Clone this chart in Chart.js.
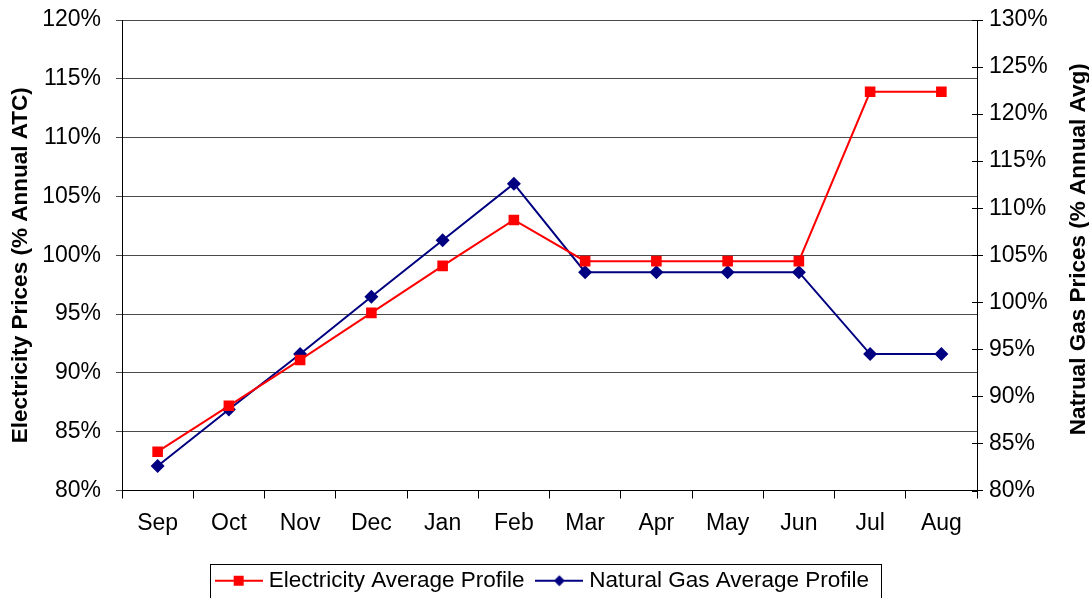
<!DOCTYPE html>
<html>
<head>
<meta charset="utf-8">
<script src="https://cdn.jsdelivr.net/npm/chart.js@4.4.1/dist/chart.umd.min.js"></script>
<style>
  html, body { margin: 0; padding: 0; background: #fff; overflow: hidden; }
  #wrap { width: 1089px; height: 602px; }
</style>
</head>
<body>
<div id="wrap"><canvas id="chart" width="1089" height="602"></canvas></div>
<script>
const months = ['Sep', 'Oct', 'Nov', 'Dec', 'Jan', 'Feb', 'Mar', 'Apr', 'May', 'Jun', 'Jul', 'Aug']
const electricity = [83.3, 87.2, 91.1, 95.1, 99.1, 103.0, 99.5, 99.5, 99.5, 99.5, 113.9, 113.9]
const naturalGas = [82.6, 88.6, 94.5, 100.6, 106.6, 112.6, 103.2, 103.2, 103.2, 103.2, 94.5, 94.5]

const FONT = 'Liberation Sans, Arial, sans-serif'

// little legend icons: line with marker in the middle
function legendIcon(color, shape) {
    const c = document.createElement('canvas')
    c.width = 48
    c.height = 14
    const ctx = c.getContext('2d')
    ctx.strokeStyle = color
    ctx.lineWidth = 2
    ctx.beginPath()
    ctx.moveTo(0, 7)
    ctx.lineTo(48, 7)
    ctx.stroke()
    ctx.fillStyle = color
    if (shape === 'square') {
        ctx.fillRect(19, 2, 10, 10)
    } else {
        ctx.beginPath()
        ctx.moveTo(24, 1.5)
        ctx.lineTo(29.5, 7)
        ctx.lineTo(24, 12.5)
        ctx.lineTo(18.5, 7)
        ctx.closePath()
        ctx.fill()
    }
    return c
}
const icons = [legendIcon('#ff0000', 'square'), legendIcon('#000080', 'diamond')]

const legendBorder = {
    id: 'legendBorder',
    afterDraw(chart) {
        const boxes = chart.legend.legendHitBoxes
        if (!boxes || !boxes.length) return
        let l = Infinity, r = -Infinity, t = Infinity, b = -Infinity
        boxes.forEach(h => {
            l = Math.min(l, h.left); r = Math.max(r, h.left + h.width)
            t = Math.min(t, h.top); b = Math.max(b, h.top + h.height)
        })
        const ctx = chart.ctx
        ctx.save()
        ctx.strokeStyle = '#000'
        ctx.lineWidth = 1
        ctx.strokeRect(Math.round(l - 10) + 0.5, Math.round(t - 6) + 0.5, Math.round(r - l + 22), Math.round(b - t + 16))
        ctx.restore()
    }
}

// axis titles (right one reads bottom-to-top) plus the small inner tick marks on the right axis
const axisExtras = {
    id: 'axisExtras',
    afterDraw(chart) {
        const ctx = chart.ctx
        const area = chart.chartArea
        const y1 = chart.scales.y1
        const mid = (area.top + area.bottom) / 2
        ctx.save()
        ctx.strokeStyle = '#000'
        ctx.lineWidth = 1
        y1.ticks.forEach(t => {
            const py = Math.round(y1.getPixelForValue(t.value)) + 0.5
            ctx.beginPath()
            ctx.moveTo(area.right - 5, py)
            ctx.lineTo(area.right, py)
            ctx.stroke()
        })
        ctx.font = 'bold 22.5px ' + FONT
        ctx.fillStyle = '#000'
        ctx.textAlign = 'center'
        ctx.textBaseline = 'middle'
        ctx.save()
        ctx.translate(21, mid + 10)
        ctx.rotate(-Math.PI / 2)
        ctx.fillText('Electricity Prices (% Annual ATC)', 0, 0)
        ctx.restore()
        ctx.translate(1079, mid - 6)
        ctx.rotate(-Math.PI / 2)
        ctx.fillText('Natrual Gas Prices (% Annual Avg)', 0, 0)
        ctx.restore()
    }
}

const noVPad = (s, w) => {
    s.width = w
    s.paddingTop = 0
    s.paddingBottom = 0
}

new Chart(document.getElementById('chart'), {
    type: 'line',
    data: {
        labels: months,
        datasets: [
            {
                label: 'Electricity Average Profile',
                data: electricity,
                yAxisID: 'y',
                borderColor: '#ff0000',
                backgroundColor: '#ff0000',
                borderWidth: 2,
                pointStyle: 'rect',
                pointRadius: 7.5,
                pointBorderWidth: 0,
                tension: 0,
            },
            {
                label: 'Natural Gas Average Profile',
                data: naturalGas,
                yAxisID: 'y1',
                borderColor: '#000080',
                backgroundColor: '#000080',
                borderWidth: 2,
                pointStyle: 'rectRot',
                pointRadius: 7,
                pointBorderWidth: 0,
                tension: 0,
            },
        ],
    },
    options: {
        responsive: false,
        animation: false,
        layout: { padding: { top: 20, left: 0, right: 0, bottom: 0 } },
        plugins: {
            tooltip: { enabled: false },
            legend: {
                position: 'bottom',
                labels: {
                    usePointStyle: true,
                    pointStyleWidth: 37.5,
                    padding: 16,
                    color: '#000',
                    font: { family: FONT, size: 22.5 },
                    generateLabels: (chart) => chart.data.datasets.map((ds, i) => ({
                        text: ds.label,
                        pointStyle: icons[i],
                        fillStyle: ds.borderColor,
                        strokeStyle: ds.borderColor,
                        lineWidth: 0,
                        datasetIndex: i,
                        fontColor: '#000',
                    })),
                },
            },
        },
        scales: {
            x: {
                offset: true,
                afterFit: (s) => { s.height = 63 },
                grid: { offset: true, drawOnChartArea: false, tickLength: 8, color: '#000' },
                border: { color: '#000', width: 1 },
                ticks: { color: '#000', padding: 11, font: { family: FONT, size: 23 }, maxRotation: 0 },
            },
            y: {
                position: 'left',
                min: 80,
                max: 120,
                afterFit: (s) => noVPad(s, 122),
                ticks: { stepSize: 5, color: '#000', padding: 15, font: { family: FONT, size: 23 }, callback: (v) => v + '%' },
                grid: { color: '#4a4a4a', tickLength: 6 },
                border: { color: '#000', width: 1 },
            },
            y1: {
                position: 'right',
                min: 80,
                max: 130,
                afterFit: (s) => noVPad(s, 112),
                ticks: { stepSize: 5, color: '#000', padding: 6, font: { family: FONT, size: 23 }, callback: (v) => v + '%' },
                grid: { drawOnChartArea: false, color: '#000', tickLength: 6 },
                border: { color: '#000', width: 1 },
            },
        },
    },
    plugins: [legendBorder, axisExtras],
})
</script>
</body>
</html>
